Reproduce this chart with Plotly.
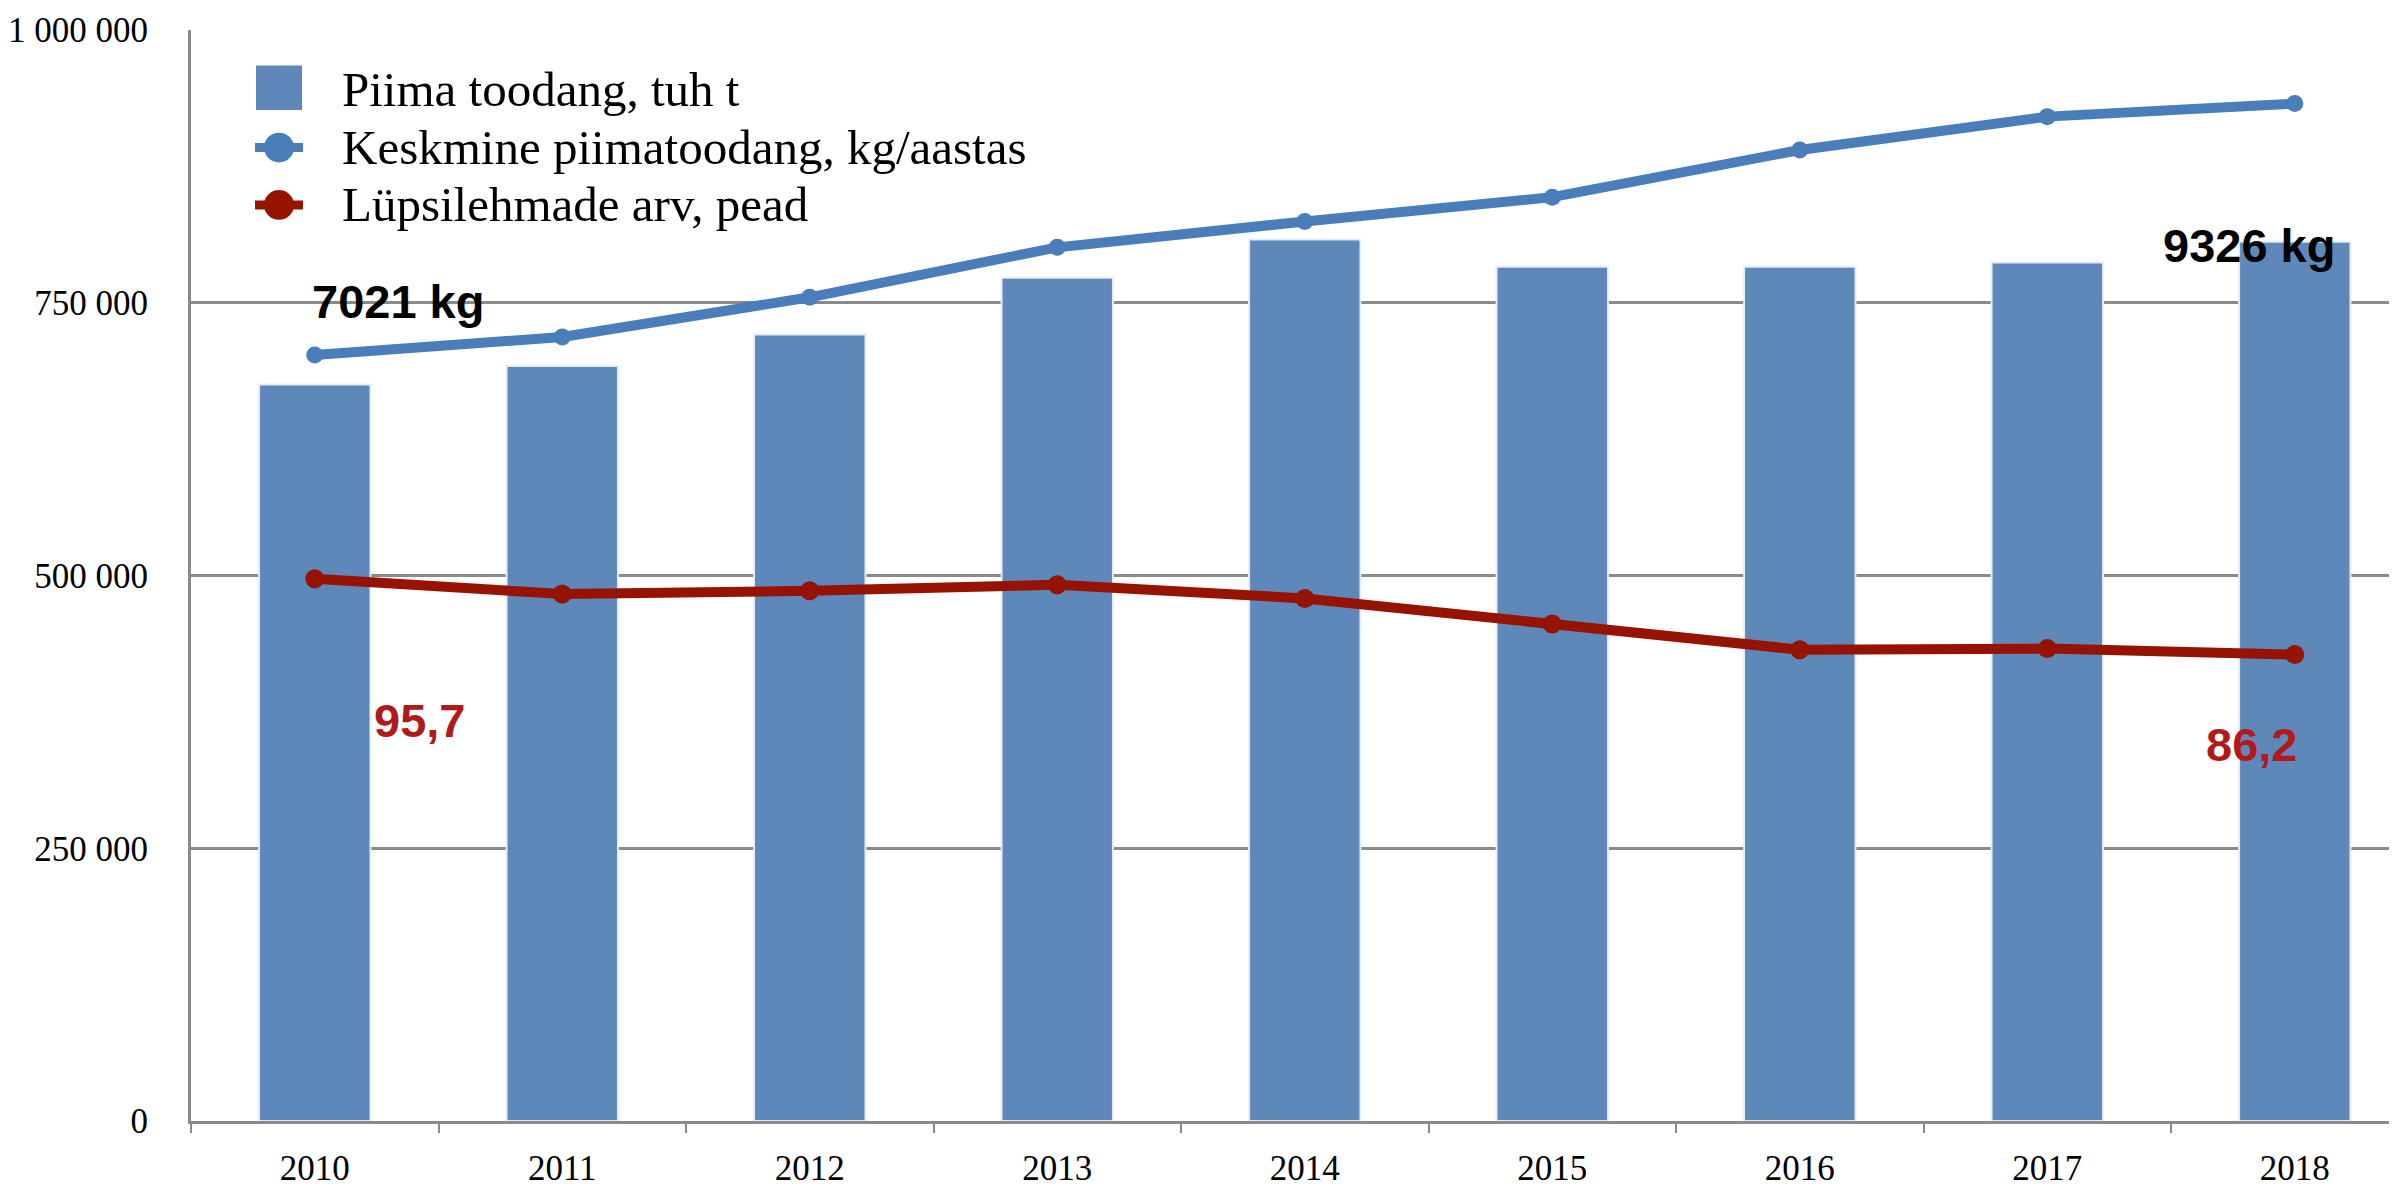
import plotly.graph_objects as go

# ---- data ----
years = ["2010", "2011", "2012", "2013", "2014", "2015", "2016", "2017", "2018"]
piima_toodang = [675000, 692000, 721000, 773000, 808000, 783000, 783000, 787000, 806000]
keskmine_kg = [7021, 7186, 7550, 8008, 8245, 8468, 8900, 9206, 9326]   # kg/aastas
keskmine_plot = [v * 100 for v in keskmine_kg]                          # shown on the same axis
lypsilehmad_plot = [497000, 483000, 486000, 491500, 479000, 455500, 432000, 433000, 427500]
lypsilehmad_labels = ["95,7", "86,2"]
y_ticks = [0, 250000, 500000, 750000, 1000000]
y_tick_text = ["0", "250 000", "500 000", "750 000", "1 000 000"]

legend_names = ["Piima toodang, tuh t", "Keskmine piimatoodang, kg/aastas", "Lüpsilehmade arv, pead"]

BAR_C = "#5E87BA"
BLUE_C = "#4A7EBB"
RED_C = "#951300"
LABEL_RED = "#B01A1A"
GRID_C = "#8a8a8a"

OFF = 8  # default body margin of the html page
W, H = 2397 - OFF, 1188 - OFF
ML, MT, MB, MR = 191 - OFF, 30 - OFF, 54, 0
PW, PH = W - ML - MR, H - MT - MB


def px(x):  # page pixel -> paper
    return (x - OFF - ML) / PW


def py(y):
    return (H - MB - (y - OFF)) / PH


fig = go.Figure()
fig.add_trace(go.Bar(x=years, y=piima_toodang, name=legend_names[0], width=0.45,
                     marker=dict(color=BAR_C, line=dict(color="rgba(232,238,247,0.95)", width=2)),
                     showlegend=False))
fig.add_trace(go.Scatter(x=years, y=keskmine_plot, name=legend_names[1], mode="lines+markers",
                         line=dict(color=BLUE_C, width=10), marker=dict(size=17, color=BLUE_C),
                         showlegend=False))
fig.add_trace(go.Scatter(x=years, y=lypsilehmad_plot, name=legend_names[2], mode="lines+markers",
                         line=dict(color=RED_C, width=10), marker=dict(size=19, color=RED_C),
                         showlegend=False))

# manual legend
shapes = []
annotations = []
rows_y = [90, 149, 207]
shapes.append(dict(type="rect", xref="paper", yref="paper", x0=px(256), x1=px(302),
                   y0=py(111), y1=py(66), fillcolor=BAR_C, line=dict(width=0)))
for yy, col in [(rows_y[1], BLUE_C), (rows_y[2], RED_C)]:
    shapes.append(dict(type="line", xref="paper", yref="paper", x0=px(255), x1=px(303),
                       y0=py(yy), y1=py(yy), line=dict(color=col, width=9)))
    shapes.append(dict(type="circle", xref="paper", yref="paper", x0=px(264), x1=px(294),
                       y0=py(yy + 15), y1=py(yy - 15), fillcolor=col, line=dict(width=0)))
for yy, name in zip(rows_y, legend_names):
    annotations.append(dict(xref="paper", yref="paper", x=px(340), y=py(yy), text=name,
                            showarrow=False, xanchor="left", yanchor="middle",
                            font=dict(family="Liberation Serif", size=49, color="black")))

# data labels (category index positions)
i0, i1 = 0, len(years) - 1
annotations.append(dict(xref="x", yref="y", x=i0, y=keskmine_plot[i0], text=f"<b>{keskmine_kg[i0]} kg</b>",
                        showarrow=False, xshift=83, yshift=54,
                        font=dict(family="Liberation Sans", size=47, color="black")))
annotations.append(dict(xref="x", yref="y", x=i1, y=keskmine_plot[i1], text=f"<b>{keskmine_kg[i1]} kg</b>",
                        showarrow=False, xshift=-46, yshift=-142,
                        font=dict(family="Liberation Sans", size=47, color="black")))
annotations.append(dict(xref="x", yref="y", x=i0, y=lypsilehmad_plot[i0], text=f"<b>{lypsilehmad_labels[0]}</b>",
                        showarrow=False, xshift=105, yshift=-142,
                        font=dict(family="Liberation Sans", size=47, color=LABEL_RED)))
annotations.append(dict(xref="x", yref="y", x=i1, y=lypsilehmad_plot[i1], text=f"<b>{lypsilehmad_labels[1]}</b>",
                        showarrow=False, xshift=-43, yshift=-90,
                        font=dict(family="Liberation Sans", size=47, color=LABEL_RED)))

fig.update_layout(
    width=W, height=H,
    margin=dict(l=ML, r=MR, t=MT, b=MB, pad=0),
    plot_bgcolor="white", paper_bgcolor="white",
    shapes=shapes, annotations=annotations,
    xaxis=dict(type="category", range=[-0.5, 8.413], showgrid=False,
               showline=True, linecolor=GRID_C, linewidth=3,
               ticks="outside", tickson="boundaries", ticklen=9, tickcolor=GRID_C, tickwidth=2,
               tickfont=dict(family="Liberation Serif", size=35, color="black"), ticklabelstandoff=14),
    yaxis=dict(range=[0, 1000000], tickvals=y_ticks, ticktext=y_tick_text,
               showgrid=True, gridcolor=GRID_C, gridwidth=3,
               showline=True, linecolor=GRID_C, linewidth=3, zeroline=False,
               ticks="", ticklabelstandoff=33,
               tickfont=dict(family="Liberation Serif", size=35, color="black")),
)

fig.write_html("out.html")
